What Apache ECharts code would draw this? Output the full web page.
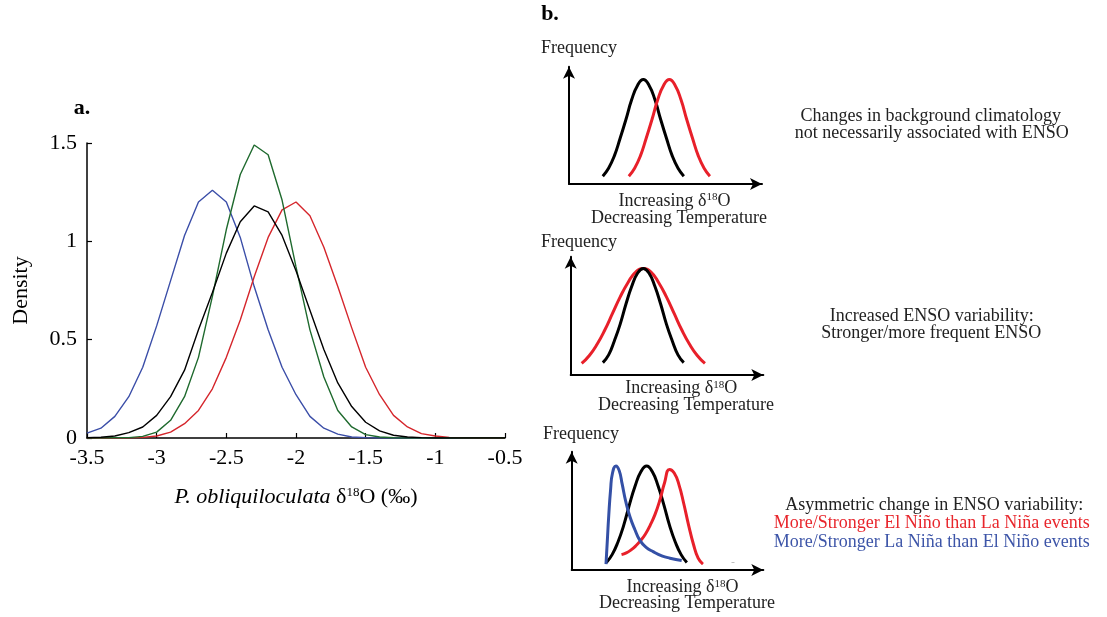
<!DOCTYPE html>
<html>
<head>
<meta charset="utf-8">
<script src="https://cdn.jsdelivr.net/npm/echarts/dist/echarts.min.js"></script>
<style>
html,body{margin:0;padding:0;background:#fff;}
#chart{width:1107px;height:617px;}
</style>
</head>
<body>
<div id="chart"></div>
<script>
// ---------- Panel a data ----------
const d18O = [-3.5,-3.4,-3.3,-3.2,-3.1,-3.0,-2.9,-2.8,-2.7,-2.6,-2.5,-2.4,-2.3,-2.2,-2.1,-2.0,-1.9,-1.8,-1.7,-1.6,-1.5,-1.4,-1.3,-1.2,-1.1,-1.0,-0.9,-0.8,-0.7,-0.6,-0.5];
const blueDensity  = [0.025,0.05,0.11,0.21,0.36,0.57,0.80,1.03,1.20,1.26,1.20,1.02,0.77,0.55,0.36,0.22,0.11,0.05,0.02,0.005,0.002,0,0,0,0,0,0,0,0,0,0];
const greenDensity = [0,0,0.001,0.002,0.008,0.03,0.09,0.21,0.41,0.72,1.06,1.34,1.49,1.44,1.21,0.87,0.55,0.31,0.14,0.056,0.017,0.005,0.001,0,0,0,0,0,0,0,0];
const blackDensity = [0.001,0.004,0.01,0.027,0.056,0.115,0.21,0.345,0.55,0.74,0.94,1.10,1.18,1.15,1.03,0.85,0.65,0.45,0.28,0.16,0.08,0.036,0.014,0.005,0.002,0,0,0,0,0,0];
const redDensity   = [0,0,0,0.001,0.003,0.01,0.03,0.073,0.14,0.25,0.41,0.60,0.82,1.02,1.16,1.20,1.13,0.97,0.77,0.56,0.36,0.22,0.115,0.056,0.022,0.01,0.003,0.001,0,0,0];
const xTicks = [-3.5,-3,-2.5,-2,-1.5,-1,-0.5];
const yTicks = [0,0.5,1,1.5];

// ---------- Panel b schematic data ([position, frequency] in % of arrow length) ----------
const b1Black = [[17.5,6.7],[20.5,13.5],[23.5,24],[26.5,39],[29.5,55],[32.5,72],[35.5,84],[38.5,89],[41.5,84],[44.5,72],[47.5,55],[50.5,39],[53.5,24],[56.5,13.5],[59.5,6.7]];
const b1Red   = [[31,6.7],[34,13.5],[37,24],[40,39],[43,55],[46,72],[49,84],[52,89],[55,84],[58,72],[61,55],[64,39],[67,24],[70,13.5],[73,6.7]];
const b2Black = [[16.7,10.5],[19.7,17],[22.7,29],[25.7,43],[28.7,60],[31.7,75],[34.7,86],[37.7,90],[40.7,86],[43.7,75],[46.7,60],[49.7,43],[52.7,29],[55.7,17],[58.7,10.5]];
const b2Red   = [[5.7,9.8],[9.7,16.5],[13.7,26],[17.7,38],[21.7,52],[25.7,66],[29.7,78],[33.7,87],[37.7,90],[41.7,87],[45.7,78],[49.7,66],[53.7,52],[57.7,38],[61.7,26],[65.7,16.5],[69.7,9.8]];
const b3Blue  = [[17.9,5],[18.6,25],[19.3,45],[20.3,68],[21.3,82],[23.1,88],[24.8,84],[26.3,73],[28.2,58],[30.4,45],[33,34],[35.6,25],[39,19],[42.5,15.5],[47,12],[51.3,10],[57.4,8]];
const b3Black = [[18.1,6.3],[21.1,13],[24.1,23.5],[27.1,37.5],[30.1,55],[33.1,71],[36.1,83],[39.1,88],[42.1,83],[45.1,71],[48.1,55],[51.1,37.5],[54.1,23.5],[57.1,13],[60.1,6.3]];
const b3Red   = [[26,13],[28.5,14.5],[31,17],[33.5,20.5],[36,25],[38.5,30.5],[41,38],[43.5,47],[46,59],[48.5,74],[51,85],[53.5,82],[56,72],[58.5,56],[61,38],[63.5,22],[66,10],[68.5,5]];

const SERIF = 'Liberation Serif';
const pair = (xs, ys) => xs.map((x, i) => [x, ys[i]]);

function aLine(name, data, color) {
  return { name, type: 'line', xAxisIndex: 0, yAxisIndex: 0, data: pair(d18O, data),
    showSymbol: false, symbol: 'none', lineStyle: { color, width: 1.4 }, itemStyle: { color }, silent: true };
}
function bLine(idx, data, color) {
  return { type: 'line', xAxisIndex: idx, yAxisIndex: idx, data, smooth: true,
    showSymbol: false, symbol: 'none', lineStyle: { color, width: 3 }, itemStyle: { color }, silent: true };
}
function bAxis(idx) {
  return { gridIndex: idx, type: 'value', min: 0, max: 100,
    axisLine: { show: true, onZero: false, symbol: ['none', 'arrow'], symbolSize: [9, 12], lineStyle: { color: '#000', width: 2 } },
    axisTick: { show: false }, axisLabel: { show: false }, splitLine: { show: false } };
}
function txt(x, y, text, opt) {
  opt = opt || {};
  return { type: 'text', x, y, silent: true,
    style: { text, fill: opt.fill || '#222', fontSize: opt.size || 18, fontFamily: SERIF,
      fontWeight: opt.weight || 'normal', align: opt.align || 'center', verticalAlign: 'middle',
      rich: { s: { fontSize: 11, fontFamily: SERIF, verticalAlign: 'top', fill: opt.fill || '#222' } } } };
}

const chart = echarts.init(document.getElementById('chart'), null, { renderer: 'canvas' });
chart.setOption({
  animation: false,
  backgroundColor: '#fff',
  grid: [
    { left: 87, top: 143, width: 418, height: 295 },
    { left: 569, top: 66.7, width: 193, height: 117.3 },
    { left: 570.7, top: 256.7, width: 192.6, height: 118.3 },
    { left: 571.7, top: 451.7, width: 191.6, height: 118.3 }
  ],
  xAxis: [
    { gridIndex: 0, type: 'value', min: xTicks[0], max: xTicks[xTicks.length - 1], interval: 0.5,
      axisLine: { show: true, onZero: false, lineStyle: { color: '#000', width: 1.5 } },
      axisTick: { show: true, inside: true, length: 5, lineStyle: { color: '#000', width: 1.2 } },
      axisLabel: { color: '#000', fontSize: 22, fontFamily: SERIF, margin: 9 },
      splitLine: { show: false },
      name: '{i|P. obliquiloculata} δ{s|18}O (‰)',
      nameLocation: 'middle', nameGap: 48,
      nameTextStyle: { color: '#000', fontSize: 22, fontFamily: SERIF,
        rich: { i: { fontStyle: 'italic', fontSize: 22, fontFamily: SERIF, color: '#000' },
                s: { fontSize: 13, fontFamily: SERIF, verticalAlign: 'top', color: '#000' } } } },
    bAxis(1), bAxis(2), bAxis(3)
  ],
  yAxis: [
    { gridIndex: 0, type: 'value', min: yTicks[0], max: yTicks[yTicks.length - 1], interval: 0.5,
      axisLine: { show: true, onZero: false, lineStyle: { color: '#000', width: 1.5 } },
      axisTick: { show: true, inside: true, length: 5, lineStyle: { color: '#000', width: 1.2 } },
      axisLabel: { color: '#000', fontSize: 22, fontFamily: SERIF, margin: 10 },
      splitLine: { show: false },
      name: 'Density', nameLocation: 'middle', nameGap: 55,
      nameTextStyle: { color: '#000', fontSize: 22, fontFamily: SERIF } },
    bAxis(1), bAxis(2), bAxis(3)
  ],
  series: [
    aLine('blue', blueDensity, '#3b4ea8'),
    aLine('red', redDensity, '#d5262c'),
    aLine('green', greenDensity, '#1f6a2e'),
    aLine('black', blackDensity, '#000000'),
    bLine(1, b1Black, '#000000'),
    bLine(1, b1Red, '#e8202a'),
    bLine(2, b2Red, '#e8202a'),
    bLine(2, b2Black, '#000000'),
    bLine(3, b3Black, '#000000'),
    bLine(3, b3Red, '#e8202a'),
    bLine(3, b3Blue, '#3450a6')
  ],
  graphic: [
    txt(82, 108, 'a.', { size: 22, weight: 'bold', fill: '#000' }),
    txt(550, 14, 'b.', { size: 22, weight: 'bold', fill: '#000' }),
    txt(541, 48, 'Frequency', { align: 'left' }),
    txt(674.5, 201, 'Increasing δ{s|18}O'),
    txt(679, 218.3, 'Decreasing Temperature'),
    txt(541, 242.7, 'Frequency', { align: 'left' }),
    txt(681.3, 388.3, 'Increasing δ{s|18}O'),
    txt(686, 405.7, 'Decreasing Temperature'),
    txt(543, 434, 'Frequency', { align: 'left' }),
    txt(682.5, 587.7, 'Increasing δ{s|18}O'),
    txt(687, 603.3, 'Decreasing Temperature'),
    txt(930.8, 116, 'Changes in background climatology'),
    txt(931.7, 133, 'not necessarily associated with ENSO'),
    txt(931.7, 316.7, 'Increased ENSO variability:'),
    txt(931.2, 333.5, 'Stronger/more frequent ENSO'),
    txt(934.2, 505, 'Asymmetric change in ENSO variability:'),
    txt(931.7, 523.5, 'More/Stronger El Niño than La Niña events', { fill: '#e8262c' }),
    txt(931.7, 542.7, 'More/Stronger La Niña than El Niño events', { fill: '#3d55a8' }),
    txt(733, 561, '..', { size: 7, fill: '#555' })
  ]
});
</script>
</body>
</html>
